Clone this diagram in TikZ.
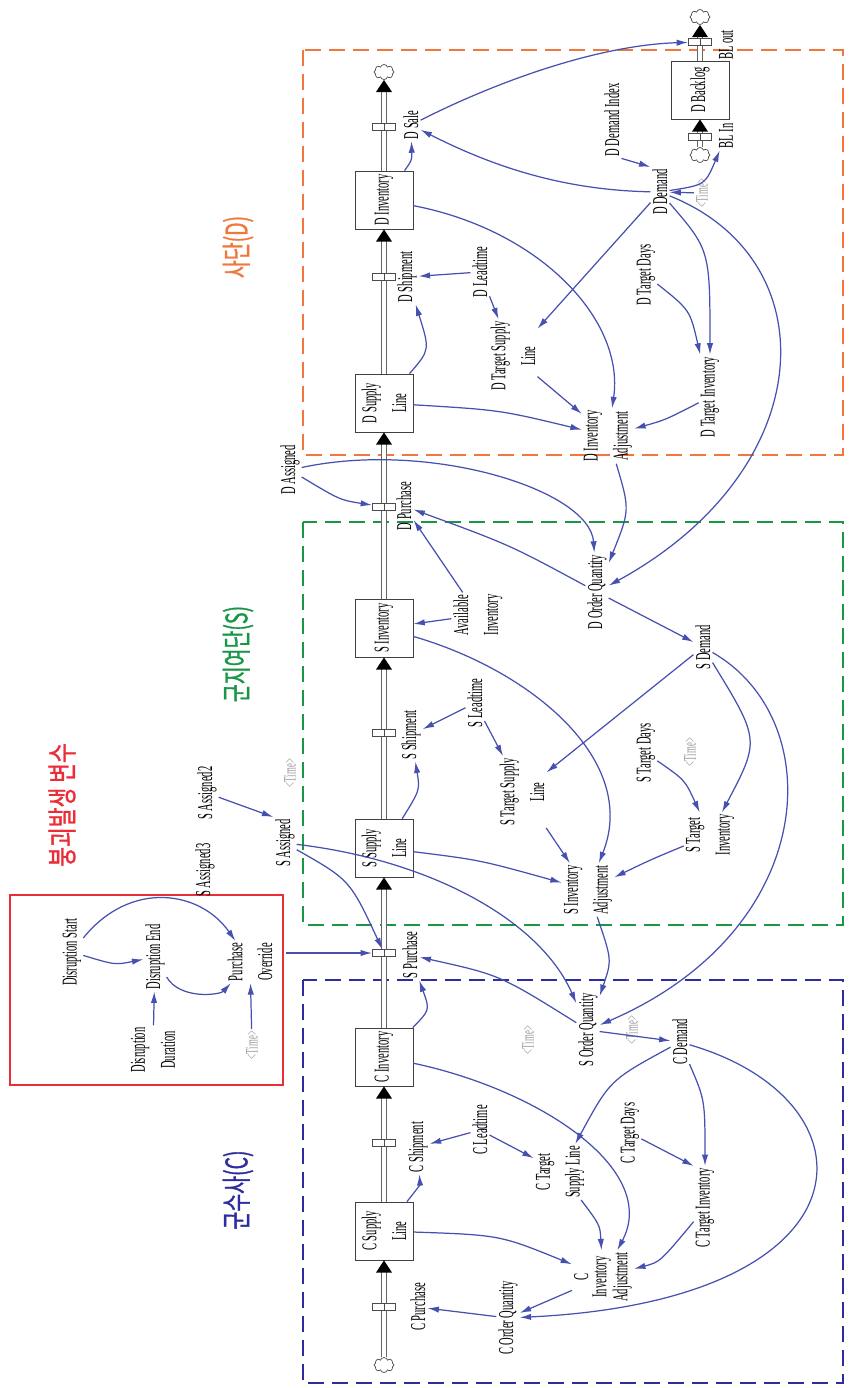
\documentclass[tikz,border=0pt]{standalone}
\usepackage{fontspec}
\usetikzlibrary{arrows.meta,shapes.symbols}
\newfontfamily\sdfont[FakeStretch=0.5]{Liberation Serif}
\newfontfamily\krfont[FakeStretch=0.65,FakeBold=1]{Noto Sans CJK KR}
\definecolor{linkblue}{RGB}{70,80,175}
\definecolor{dorange}{RGB}{240,120,60}
\definecolor{sgreen}{RGB}{25,150,70}
\definecolor{cblue}{RGB}{45,45,160}
\definecolor{rred}{RGB}{235,45,55}
\tikzset{
  var/.style={rotate=90, font=\sdfont\fontsize{12}{17}\selectfont, align=center, inner sep=1pt},
  stock/.style={var, draw=black!75, fill=white, minimum width=11.6mm, minimum height=11.6mm},
  shadow/.style={var, font=\sdfont\fontsize{10}{12}\selectfont, text=black!40},
  kr/.style={rotate=90, font=\krfont\fontsize{17}{20}\selectfont},
  cloudnode/.style={cloud, cloud puffs=8, aspect=1.2, draw=black!70, fill=white, minimum width=4mm, minimum height=3mm, inner sep=0pt},
  valve/.style={draw=black!70, fill=white, line width=0.5pt, minimum width=4.6mm, minimum height=1.3mm, inner sep=0pt,
    path picture={\draw[black!70] (path picture bounding box.south) -- (path picture bounding box.north);}},
  pipe/.style={draw=black!60, double=white, double distance=2pt, line width=0.8pt, -{Triangle[width=9pt,length=7pt,color=black]}},
  link/.style={draw=linkblue, line width=0.7pt, -{Latex[length=6.5pt,width=3.6pt]}},
  region/.style={line width=1.1pt, dash pattern=on 3.2mm off 1.6mm}
}
\begin{document}
\begin{tikzpicture}[x=0.2mm, y=-0.2mm]
    \useasboundingbox (0,0) rectangle (851,1388);

    % Sector frames and their titles
    \draw[region, draw=dorange] (303,50) rectangle (843,455);
    \draw[region, draw=sgreen] (303,522) rectangle (843,925);
    \draw[region, draw=cblue] (303,980) rectangle (843,1383);
    \draw[rred, line width=1pt] (10,895) rectangle (283,1085);
    \node[kr, text=dorange] (titleD) at (238,247) {사단(D)};
    \node[kr, text=sgreen] (titleS) at (238,654) {군지여단(S)};
    \node[kr, text=cblue] (titleC) at (238,1190) {군수사(C)};
    \node[kr, text=rred, font=\krfont\fontsize{17}{20}\selectfont\addfontfeature{FakeStretch=0.72}] (titleR) at (62,805) {붕괴발생 변수};

    % Stocks and clouds of the main chain
    \node[cloudnode] (cloudTop) at (384,72) {};
    \node[stock] (DInv) at (384,200) {D Inventory};
    \node[stock] (DSL) at (384,403) {D Supply\\Line};
    \node[stock] (SInv) at (384,628) {S Inventory};
    \node[stock] (SSL) at (384,848) {S Supply\\Line};
    \node[stock] (CInv) at (384,1057) {C Inventory};
    \node[stock] (CSL) at (384,1231) {C Supply\\Line};
    \node[cloudnode] (cloudBot) at (384,1365) {};

    % Backlog chain
    \node[cloudnode] (cloudBLtop) at (700,17) {};
    \node[stock] (DBL) at (700,90) {D Backlog};
    \node[cloudnode] (cloudBLbot) at (700,155) {};

    % Pipes
    \draw[pipe] (cloudBot) -- (CSL);
    \draw[pipe] (CSL) -- (CInv);
    \draw[pipe] (CInv) -- (SSL);
    \draw[pipe] (SSL) -- (SInv);
    \draw[pipe] (SInv) -- (DSL);
    \draw[pipe] (DSL) -- (DInv);
    \draw[pipe] (DInv) -- (cloudTop);
    \draw[pipe] (cloudBLbot) -- (DBL);
    \draw[pipe] (DBL) -- (cloudBLtop);

    % Valves and flow names
    \node[valve] (vDSale) at (384,127) {};
    \node[valve] (vDShip) at (384,277) {};
    \node[valve] (vDPur) at (384,507) {};
    \node[valve] (vSShip) at (384,733) {};
    \node[valve] (vSPur) at (384,953) {};
    \node[valve] (vCShip) at (384,1143) {};
    \node[valve] (vCPur) at (384,1307) {};
    \node[valve] (vBLout) at (700,42) {};
    \node[valve] (vBLin) at (700,137) {};
    \node[var] (DSale) at (411,125) {D Sale};
    \node[var] (DShip) at (407,277) {D Shipment};
    \node[var] (DPur) at (404,506) {D Purchase};
    \node[var] (SShip) at (411,735) {S Shipment};
    \node[var] (SPur) at (410,955) {S Purchase};
    \node[var] (CShip) at (418,1147) {C Shipment};
    \node[var] (CPur) at (418,1307) {C Purchase};
    \node[var] (BLout) at (726,45) {BL out};
    \node[var] (BLin) at (726,136) {BL In};

    % D sector variables
    \node[var] (DDemIdx) at (612,120) {D Demand Index};
    \node[var] (DDem) at (660,192) {D Demand};
    \node[shadow] (tD) at (702,193) {\textless Time\textgreater};
    \node[var] (DLead) at (480,272) {D Leadtime};
    \node[var] (DTSL) at (513,356) {D Target Supply\\Line};
    \node[var] (DTDays) at (646,275) {D Target Days};
    \node[var] (DTInv) at (710,397) {D Target Inventory};
    \node[var] (DIAdj) at (608,436) {D Inventory\\Adjustment};
    \node[var] (DOQ) at (597,592) {D Order Quantity};
    \node[var] (Avail) at (478,615) {Available\\Inventory};
    \node[var] (DAsg) at (290,470) {D Assigned};

    % S sector variables
    \node[var] (SDem) at (703,647) {S Demand};
    \node[var] (SLead) at (475,703) {S Leadtime};
    \node[var] (STSL) at (522,792) {S Target Supply\\Line};
    \node[var] (STDays) at (646,753) {S Target Days};
    \node[shadow] (tS) at (690,752) {\textless Time\textgreater};
    \node[var] (STInv) at (710,835) {S Target\\Inventory};
    \node[var] (SIAdj) at (588,890) {S Inventory\\Adjustment};
    \node[var] (SOQ) at (588,1030) {S Order Quantity};
    \node[shadow] (tSOQ) at (632,1030) {\textless Time\textgreater};
    \node[var] (SAsg) at (285,843) {S Assigned};
    \node[var] (SAsg2) at (207,793) {S Assigned2};
    \node[var] (SAsg3) at (205,870) {S Assigned3};
    \node[shadow] (tSA) at (290,773) {\textless Time\textgreater};

    % Disruption variables
    \node[var] (DisStart) at (72,952) {Disruption Start};
    \node[var] (DisEnd) at (155,957) {Disruption End};
    \node[var] (POver) at (250,962) {Purchase\\Override};
    \node[var] (DisDur) at (153,1050) {Disruption\\Duration};
    \node[shadow] (tR) at (252,1045) {\textless Time\textgreater};

    % C sector variables
    \node[shadow] (tC) at (528,1040) {\textless Time\textgreater};
    \node[var] (CDem) at (680,1042) {C Demand};
    \node[var] (CLead) at (480,1130) {C Leadtime};
    \node[var] (CTSL) at (560,1172) {C Target\\Supply Line};
    \node[var] (CTDays) at (630,1133) {C Target Days};
    \node[var] (CTInv) at (705,1208) {C Target Inventory};
    \node[var, font=\sdfont\fontsize{12}{10.5}\selectfont] (CIAdj) at (603,1277) {C\\Inventory\\Adjustment};
    \node[var] (COQ) at (508,1318) {C Order Quantity};

    % D sector links
    \draw[link] (DInv) .. controls (412,160) .. (DSale);
    \draw[link] (DDem) .. controls (560,190) and (490,165) .. (DSale);
    \draw[link] (DSale) .. controls (500,80) and (600,45) .. (vBLout);
    \draw[link] (DDem) .. controls (705,185) .. (BLin);
    \draw[link] (tD) -- (DDem);
    \draw[link] (DDemIdx.south west) -- (DDem.north east);
    \draw[link] (DDem) -- (DTSL);
    \draw[link] (DDem) .. controls (710,250) .. (DTInv);
    \draw[link] (DTDays) .. controls (690,310) .. (DTInv);
    \draw[link] (DDem) .. controls (830,260) and (820,470) .. (DOQ);
    \draw[link] (DLead) -- (DShip);
    \draw[link] (DLead) -- (DTSL);
    \draw[link] (DSL) .. controls (430,350) .. (DShip);
    \draw[link] (DSL) .. controls (500,410) .. (DIAdj);
    \draw[link] (DTSL) -- (DIAdj);
    \draw[link] (DInv) .. controls (540,230) and (625,320) .. (DIAdj);
    \draw[link] (DTInv) .. controls (665,420) .. (DIAdj);
    \draw[link] (DIAdj) .. controls (630,510) .. (DOQ);
    \draw[link] (DAsg) .. controls (430,440) and (590,490) .. (DOQ);
    \draw[link] (DAsg) .. controls (340,500) .. (vDPur);
    \draw[link] (DOQ) .. controls (510,545) .. (DPur);
    \draw[link] (Avail) -- (DPur);
    \draw[link] (Avail) -- (SInv);
    \draw[link] (DOQ) -- (SDem);

    % S sector links
    \draw[link] (SDem) -- (STSL);
    \draw[link] (SDem) .. controls (760,740) .. (STInv);
    \draw[link] (STDays) .. controls (685,780) .. (STInv);
    \draw[link] (SDem) .. controls (830,720) and (820,930) .. (SOQ);
    \draw[link] (SLead) -- (SShip);
    \draw[link] (SLead) -- (STSL);
    \draw[link] (SSL) .. controls (420,790) .. (SShip);
    \draw[link] (SSL) .. controls (480,860) .. (SIAdj);
    \draw[link] (STSL) -- (SIAdj);
    \draw[link] (STInv) .. controls (650,860) .. (SIAdj);
    \draw[link] (SInv) .. controls (530,670) and (640,760) .. (SIAdj);
    \draw[link] (SIAdj) .. controls (612,960) .. (SOQ);
    \draw[link] (SAsg2) -- (SAsg.north east);
    \draw[link] (SAsg) .. controls (350,880) .. (vSPur);
    \draw[link] (SAsg) .. controls (430,860) and (540,920) .. (SOQ);
    \draw[link] (SOQ) .. controls (500,975) .. (SPur);
    \draw[link] (CInv) .. controls (430,1010) .. (SPur);

    % Disruption links
    \draw[link, shorten <=2.4mm] (POver.south |- vSPur) -- (vSPur);
    \draw[link] (DisStart) .. controls (130,880) and (200,890) .. (POver);
    \draw[link] (DisStart) .. controls (115,965) .. (DisEnd);
    \draw[link] (DisEnd) .. controls (180,1000) and (220,995) .. (POver);
    \draw[link] (DisDur) -- (DisEnd);
    \draw[link] (tR) -- (POver);

    % C sector links
    \draw[link] (SOQ) -- (CDem);
    \draw[link] (CInv) .. controls (540,1090) and (660,1170) .. (CIAdj);
    \draw[link] (CDem) .. controls (610,1080) .. (CTSL);
    \draw[link] (CDem) .. controls (705,1100) .. (CTInv);
    \draw[link] (CTDays) -- (CTInv.north east);
    \draw[link] (CDem) .. controls (880,1100) and (880,1300) .. (COQ);
    \draw[link] (CLead) -- (CShip);
    \draw[link] (CLead) -- (CTSL);
    \draw[link] (CSL) .. controls (420,1185) .. (CShip);
    \draw[link] (CSL) .. controls (500,1235) .. (CIAdj);
    \draw[link] (CTSL) .. controls (600,1225) .. (CIAdj);
    \draw[link] (CTInv) .. controls (660,1262) .. (CIAdj);
    \draw[link] (CIAdj) -- (COQ);
    \draw[link] (COQ) -- (CPur);
\end{tikzpicture}
\end{document}
